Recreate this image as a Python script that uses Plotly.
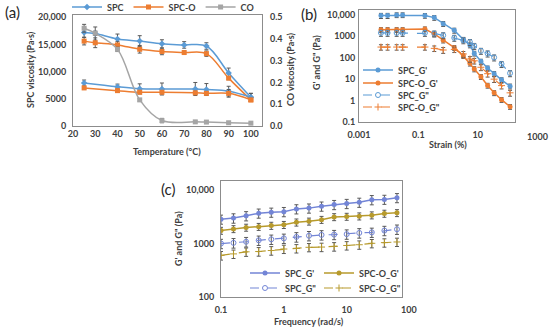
import plotly.graph_objects as go

W, H = 550, 329

# ---------------- Panel (a): viscosity vs temperature ----------------
temp_hi = [25, 30, 40, 50, 60, 70, 80, 90, 100]
spc_hi = [17200, 17000, 16000, 15600, 15100, 14900, 14700, 9750, 5300]
spc_hi_err = [900, 1200, 900, 1000, 750, 600, 600, 900, 700]
spco_hi = [15600, 15300, 14900, 14100, 13700, 13500, 13300, 8800, 4800]
spco_hi_err = [700, 900, 600, 700, 600, 300, 500, 300, 300]

temp_lo = [25, 40, 50, 60, 75, 80, 90, 100]
spc_lo = [7900, 7200, 6850, 6800, 6800, 6700, 6400, 5300]
spc_lo_err = [550, 500, 900, 1100, 1200, 1100, 900, 700]
spco_lo = [7000, 6500, 6200, 6200, 6100, 6000, 6000, 4800]
spco_lo_err = [300, 300, 300, 300, 300, 300, 700, 300]

temp_co = [25, 30, 40, 50, 60, 75, 80, 90, 100]
co_visc = [0.449, 0.426, 0.352, 0.12, 0.025, 0.019, 0.018, 0.015, 0.013]
co_err = [0.018, 0.01, 0.01, 0.006, 0.01, 0.005, 0.005, 0.004, 0.003]

temp_ticks = [20, 30, 40, 50, 60, 70, 80, 90, 100]
visc_ticks = [0, 5000, 10000, 15000, 20000]
visc_ticktext = ["0", "5000", "10,000", "15,000", "20,000"]
co_ticks = [0, 0.1, 0.2, 0.3, 0.4, 0.5]
co_ticktext = ["0.0", "0.1", "0.2", "0.3", "0.4", "0.5"]

# ---------------- Panel (b): amplitude sweep ----------------
strain = [0.0055, 0.0092, 0.0186, 0.0296, 0.167, 0.345, 0.69, 1.63, 3.3,
          5.5, 7.7, 12.9, 21.7, 36, 64, 124]
spc_gp_b = [9300, 9300, 10000, 10000, 9300, 7500, 3900, 1900, 710,
            390, 160, 68, 33, 18, 9.3, 4.7]
spc_gp_b_err = [2500, 2500, 2500, 2500, 2300, 1900, 1000, 500, 180,
                100, 40, 17, 8, 4.5, 2.3, 1.2]
spco_gp_b = [2040, 2040, 2040, 2040, 2200, 1300, 650, 295, 122,
             55, 30, 13, 5.1, 2.3, 1.1, 0.52]
spco_gp_b_err = [500, 500, 500, 500, 550, 330, 160, 75, 30,
                 14, 8, 3.3, 1.3, 0.6, 0.28, 0.13]
spc_gpp_b = [1450, 1450, 1450, 1450, 1450, 1350, 1120, 850, 650,
             540, 355, 210, 158, 103, 51, 19]
spc_gpp_b_err = [450, 450, 450, 450, 450, 420, 350, 260, 200,
                 170, 110, 65, 50, 32, 16, 6]
spco_gpp_b = [316, 316, 316, 316, 316, 275, 230, 245, 150,
              87, 72, 36, 18, 10, 5, 2.3]
spco_gpp_b_err = [90, 90, 90, 90, 90, 80, 70, 70, 45,
                  26, 21, 11, 5.5, 3, 1.5, 0.7]

strain_ticks = [0.001, 0.1, 10]
strain_ticktext = ["0.001", "0.1", "10"]
strain_extra_tick = "1000"
mod_b_ticks = [0.1, 1, 10, 100, 1000, 10000]
mod_b_ticktext = ["0.1", "1", "10", "100", "1000", "10,000"]

# ---------------- Panel (c): frequency sweep ----------------
freq = [0.1, 0.158, 0.251, 0.398, 0.631, 1, 1.585, 2.51, 3.98, 6.31,
        10, 15.85, 25.1, 39.8, 63.1]
spc_gp_c = [2850, 3000, 3300, 3700, 3850, 3950, 4450, 4600, 5000, 5350,
            5600, 5900, 6600, 6700, 7200]
spc_gp_c_err = [550, 600, 650, 720, 750, 780, 870, 900, 980, 1050,
                1100, 1150, 1300, 1300, 1400]
spco_gp_c = [1750, 1880, 2000, 2070, 2170, 2250, 2500, 2600, 2800, 3150,
             3200, 3250, 3400, 3650, 3750]
spco_gp_c_err = [260, 280, 300, 310, 330, 340, 380, 390, 420, 470,
                 480, 490, 510, 550, 560]
spc_gpp_c = [1000, 1030, 1080, 1150, 1200, 1250, 1330, 1400, 1450, 1470,
             1500, 1580, 1620, 1750, 1850]
spc_gpp_c_err = [200, 210, 220, 230, 240, 250, 270, 280, 290, 290,
                 300, 320, 320, 350, 370]
spco_gpp_c = [600, 640, 700, 710, 740, 790, 810, 850, 860, 880,
              920, 950, 1010, 1040, 1070]
spco_gpp_c_err = [110, 115, 125, 130, 135, 140, 145, 150, 155, 160,
                  165, 170, 180, 185, 190]

freq_ticks = [0.1, 1, 10]
freq_ticktext = ["0.1", "1", "10"]
freq_extra_tick = "100"
mod_c_ticks = [100, 1000, 10000]
mod_c_ticktext = ["100", "1000", "10,000"]

# ---------------- styling ----------------
BLUE = "#5b9bd5"
ORANGE = "#ed7d31"
GRAY = "#a5a5a5"
BLUE_C = "#7385d6"
GOLD_C = "#b79a2c"
ERR = "#5a5a5a"
FONT = "Lato, 'Open Sans', sans-serif"
TXT = "#404040"


def px_x(p):
    return p / W


def px_y(p):
    return 1 - p / H


def err(arr, w=2):
    return dict(type="data", array=arr, color=ERR, thickness=1, width=w)


fig = go.Figure()

# (a)
fig.add_trace(go.Scatter(x=temp_hi, y=spc_hi, error_y=err(spc_hi_err), name="SPC",
                         mode="lines+markers", line=dict(color=BLUE, width=1.5, shape="spline"),
                         marker=dict(color=BLUE, size=5, symbol="diamond"),
                         xaxis="x", yaxis="y", legend="legend"))
fig.add_trace(go.Scatter(x=temp_hi, y=spco_hi, error_y=err(spco_hi_err), name="SPC-O",
                         mode="lines+markers", line=dict(color=ORANGE, width=1.5, shape="spline"),
                         marker=dict(color=ORANGE, size=5, symbol="square"),
                         xaxis="x", yaxis="y", legend="legend"))
fig.add_trace(go.Scatter(x=temp_co, y=co_visc, error_y=err(co_err), name="CO",
                         mode="lines+markers", line=dict(color=GRAY, width=1.5, shape="spline"),
                         marker=dict(color=GRAY, size=5, symbol="square"),
                         xaxis="x", yaxis="y2", legend="legend"))
fig.add_trace(go.Scatter(x=temp_lo, y=spc_lo, error_y=err(spc_lo_err), name="SPC",
                         mode="lines+markers", line=dict(color=BLUE, width=1.5, shape="spline"),
                         marker=dict(color=BLUE, size=5, symbol="diamond"), showlegend=False,
                         xaxis="x", yaxis="y"))
fig.add_trace(go.Scatter(x=temp_lo, y=spco_lo, error_y=err(spco_lo_err), name="SPC-O",
                         mode="lines+markers", line=dict(color=ORANGE, width=1.5, shape="spline"),
                         marker=dict(color=ORANGE, size=5, symbol="square"), showlegend=False,
                         xaxis="x", yaxis="y"))

# (b)
fig.add_trace(go.Scatter(x=strain, y=spc_gp_b, error_y=err(spc_gp_b_err), name="SPC_G'",
                         mode="lines+markers", line=dict(color=BLUE, width=1.5),
                         marker=dict(color=BLUE, size=5, symbol="circle"),
                         xaxis="x3", yaxis="y3", legend="legend2"))
fig.add_trace(go.Scatter(x=strain, y=spco_gp_b, error_y=err(spco_gp_b_err), name="SPC-O_G'",
                         mode="lines+markers", line=dict(color=ORANGE, width=1.5),
                         marker=dict(color=ORANGE, size=5, symbol="circle"),
                         xaxis="x3", yaxis="y3", legend="legend5"))
fig.add_trace(go.Scatter(x=strain, y=spc_gpp_b, error_y=err(spc_gpp_b_err), name="SPC_G\"",
                         mode="lines+markers", line=dict(color=BLUE, width=1.2, dash="dash"),
                         marker=dict(color=BLUE, size=5, symbol="circle-open"),
                         xaxis="x3", yaxis="y3", legend="legend6"))
fig.add_trace(go.Scatter(x=strain, y=spco_gpp_b, error_y=err(spco_gpp_b_err), name="SPC-O_G\"",
                         mode="lines+markers", line=dict(color=ORANGE, width=1.2, dash="dash"),
                         marker=dict(color=ORANGE, size=5, symbol="cross-thin-open", line=dict(width=1, color=ORANGE)),
                         xaxis="x3", yaxis="y3", legend="legend7"))

# (c)
fig.add_trace(go.Scatter(x=freq, y=spc_gp_c, error_y=err(spc_gp_c_err), name="SPC_G'",
                         mode="lines+markers", line=dict(color=BLUE_C, width=1.5),
                         marker=dict(color=BLUE_C, size=5, symbol="circle"),
                         xaxis="x4", yaxis="y4", legend="legend3"))
fig.add_trace(go.Scatter(x=freq, y=spc_gpp_c, error_y=err(spc_gpp_c_err), name="SPC_G\"",
                         mode="lines+markers", line=dict(color=BLUE_C, width=1.2, dash="dash"),
                         marker=dict(color=BLUE_C, size=5, symbol="circle-open"),
                         xaxis="x4", yaxis="y4", legend="legend8"))
fig.add_trace(go.Scatter(x=freq, y=spco_gp_c, error_y=err(spco_gp_c_err), name="SPC-O_G'",
                         mode="lines+markers", line=dict(color=GOLD_C, width=1.5),
                         marker=dict(color=GOLD_C, size=5, symbol="circle"),
                         xaxis="x4", yaxis="y4", legend="legend4"))
fig.add_trace(go.Scatter(x=freq, y=spco_gpp_c, error_y=err(spco_gpp_c_err), name="SPC-O_G\"",
                         mode="lines+markers", line=dict(color=GOLD_C, width=1.2, dash="dash"),
                         marker=dict(color=GOLD_C, size=5, symbol="cross-thin-open", line=dict(width=1, color=GOLD_C)),
                         xaxis="x4", yaxis="y4", legend="legend9"))

tickfont = dict(family=FONT, size=9, color=TXT, weight="bold")
titlefont = dict(family=FONT, size=9, color=TXT, weight="bold")
axis_common = dict(showline=True, mirror=True, linecolor="#8c8c8c", linewidth=1,
                   showgrid=False, zeroline=False, ticks="", tickfont=tickfont,
                   automargin=False)

leg_font = dict(family=FONT, size=9, color=TXT, weight="bold")


def leg(x, y, orientation="v", xanchor="left", yanchor="middle"):
    return dict(orientation=orientation, x=px_x(x), y=px_y(y), xanchor=xanchor,
                yanchor=yanchor, font=leg_font, bgcolor="rgba(0,0,0,0)",
                borderwidth=0, tracegroupgap=0)


fig.update_layout(
    width=W, height=H, margin=dict(l=0, r=0, t=0, b=0, autoexpand=False),
    paper_bgcolor="white", plot_bgcolor="white",
    font=dict(family=FONT, size=9, color=TXT),
    xaxis=dict(domain=[px_x(73), px_x(262)], anchor="y", range=[20, 105],
               tickvals=temp_ticks, ticklabelstandoff=-1, **axis_common),
    yaxis=dict(domain=[px_y(126), px_y(15)], anchor="x", range=[0, 20400],
               tickvals=visc_ticks, ticktext=visc_ticktext, ticklabelstandoff=4,
               **axis_common),
    yaxis2=dict(overlaying="y", anchor="x", side="right", range=[0, 0.51],
                tickvals=co_ticks, ticktext=co_ticktext, showgrid=False, zeroline=False,
                showline=False, ticks="", tickfont=tickfont, ticklabelstandoff=7,
                automargin=False),
    xaxis3=dict(domain=[px_x(359), px_x(515)], anchor="y3", type="log", range=[-3, 2.26],
                tickvals=strain_ticks, ticktext=strain_ticktext, ticklabelstandoff=4,
                **axis_common),
    yaxis3=dict(domain=[px_y(122), px_y(10)], anchor="x3", type="log", range=[-1, 4.23],
                tickvals=mod_b_ticks, ticktext=mod_b_ticktext, ticklabelstandoff=1,
                **axis_common),
    xaxis4=dict(domain=[px_x(221), px_x(402)], anchor="y4", type="log", range=[-1, 1.88],
                tickvals=freq_ticks, ticktext=freq_ticktext, ticklabelstandoff=4,
                **axis_common),
    yaxis4=dict(domain=[px_y(297), px_y(181)], anchor="x4", type="log", range=[2, 4.17],
                tickvals=mod_c_ticks, ticktext=mod_c_ticktext, ticklabelstandoff=4,
                **axis_common),
    legend=leg(163, 7, orientation="h", xanchor="center", yanchor="middle"),
    legend2=leg(358, 70),
    legend5=leg(358, 83),
    legend6=leg(358, 95),
    legend7=leg(358, 107),
    legend3=leg(245, 273),
    legend8=leg(245, 288),
    legend4=leg(319, 273),
    legend9=leg(319, 288),
    showlegend=True,
)


def note(text, x, y, font, angle=0):
    fig.add_annotation(text=text, x=px_x(x), y=px_y(y), xref="paper", yref="paper",
                       xanchor="center", yanchor="middle", showarrow=False, font=font,
                       textangle=angle)


panel_font = dict(family=FONT, size=15, color="#262626")
note("(a)", 12, 12, panel_font)
note("(b)", 309, 14, panel_font)
note("(c)", 168, 189, panel_font)

# axis titles
note("Temperature (°C)", 167, 151, titlefont)
note("SPC viscosity (Pa·s)", 31, 70, titlefont, -90)
note("CO viscosity (Pa·s)", 291, 70, titlefont, -90)
note("Strain (%)", 448, 144, titlefont)
note("G' and G\" (Pa)", 317, 63, titlefont, -90)
note("Frequency (rad/s)", 309, 321, titlefont)
note("G' and G\" (Pa)", 178, 239, titlefont, -90)

# tick labels that sit beyond the cropped plot boxes in the original
note(strain_extra_tick, 537, 136, tickfont)
note(freq_extra_tick, 409, 309, tickfont)

# the page's default body margin would offset the 550x329 figure inside the window
fig.write_html("out.html",
               config={"displayModeBar": False},
               post_script="document.body.style.margin='0px';document.body.style.overflow='hidden';")
